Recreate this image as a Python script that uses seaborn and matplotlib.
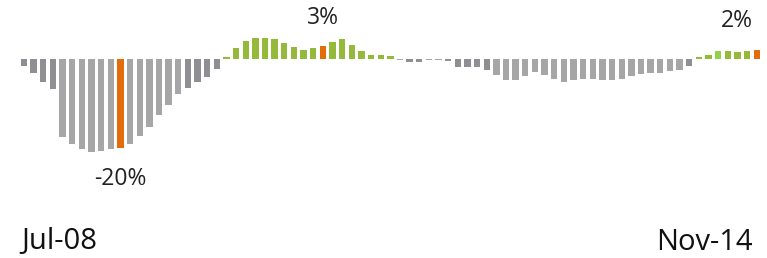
import pandas as pd
import numpy as np
import seaborn as sns
import matplotlib.pyplot as plt
import matplotlib.transforms as mtransforms

# monthly change, Jul-08 .. Nov-14 (in %)
months = pd.period_range('2008-07', '2014-11', freq='M').strftime('%b-%y').tolist()
change = [
    -1.6, -3.1, -5.1, -6.7, -17.5, -19.2, -20.3, -20.9, -20.6, -20.3,
    -20.0, -19.0, -17.2, -15.2, -12.6, -10.3, -7.9, -6.6, -5.1, -4.0,
    -2.2, 0.35, 2.4, 4.0, 4.7, 4.7, 4.4, 3.5, 2.7, 2.0,
    2.4, 3.0, 3.8, 4.4, 3.2, 1.8, 1.0, 1.0, 0.75, -0.3,
    -0.7, -0.6, -0.3, -0.3, -0.5, -1.7, -1.8, -1.8, -2.5, -3.6,
    -4.8, -4.8, -3.8, -3.0, -3.6, -4.6, -5.1, -4.8, -4.5, -4.5,
    -4.8, -4.7, -4.5, -3.9, -3.3, -3.1, -3.1, -2.8, -2.5, -1.6,
    0.35, 0.9, 1.8, 1.8, 1.5, 1.8, 2.0,
]
highlight_idx = [10, 31, 76]          # labelled months
dark_idx = [0, 1, 2, 3, 17, 18, 19, 20, 40, 41, 44, 45, 46, 47, 48, 69]
light_green_idx = [72]

df = pd.DataFrame({'month': months, 'change': change})

# colours
colors = []
for i, v in enumerate(change):
    if i in highlight_idx:
        colors.append('#e46c0a')
    elif v > 0:
        colors.append('#92d050' if i in light_green_idx else '#95b93a')
    elif i in dark_idx:
        colors.append('#8e8e93')
    else:
        colors.append('#a6a6a6')

sns.set_style('white')
plt.rcParams['font.family'] = ['Open Sans', 'DejaVu Sans']

fig = plt.figure(figsize=(7.67, 2.58), dpi=100)
ax = fig.add_axes([0, 0, 1, 1])

sns.barplot(data=df, x='month', y='change', hue='month', palette=colors,
            legend=False, saturation=1, width=0.66, linewidth=0, ax=ax)

ax.set_xlim(-2.49, 77.07)
ax.set_ylim(-44.72, 13.26)
ax.axis('off')

# labels on highlighted bars
offsets = {10: (0, -22), 31: (0, 20), 76: (-14, 21)}
for i in highlight_idx:
    v = change[i]
    ax.annotate(f'{v:.0f}%', xy=(i, v), xytext=offsets[i], textcoords='offset points',
                ha='center', va='center', fontsize=16.5, color='#222222')

# first / last month labels
trans = mtransforms.blended_transform_factory(ax.transData, ax.transAxes)
ax.text(-0.25, 1 - 242 / 258, months[0], transform=trans, ha='left', va='center',
        fontsize=21, color='#111111')
ax.text(75.6, 1 - 242 / 258, months[-1], transform=trans, ha='right', va='center',
        fontsize=21, color='#111111')

plt.savefig('out.png', dpi=100)
